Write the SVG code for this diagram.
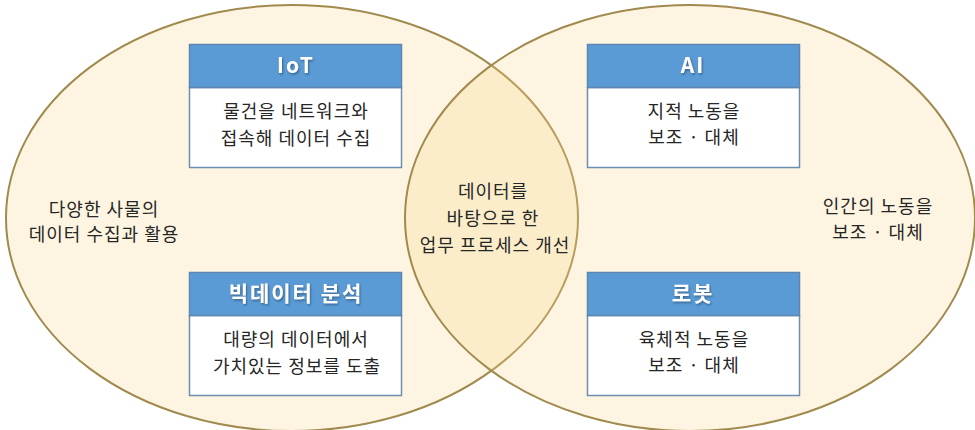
<svg xmlns="http://www.w3.org/2000/svg" width="975" height="430" viewBox="0 0 975 430">
<style>
.circle{fill:#F9D98C;fill-opacity:0.26;stroke:#A18A4E;stroke-width:2}
.hdr{fill:#5B9BD5;stroke:#5E86B2;stroke-width:1.5}
.body{fill:#FFFFFF;stroke:#6E8DB0;stroke-width:1.5}
.ht{font-family:"Noto Sans CJK KR","Noto Sans",sans-serif;font-size:21px;font-weight:bold;fill:#FFFFFF;text-anchor:middle;letter-spacing:2px;filter:url(#sh)}
.t{font-family:"Noto Sans CJK KR","Noto Sans",sans-serif;font-size:18px;fill:#262626;text-anchor:middle;letter-spacing:1px}
</style>
<defs>
<filter id="sh" x="-20%" y="-30%" width="140%" height="160%">
<feDropShadow dx="1" dy="1.5" stdDeviation="0.8" flood-color="#1F3A5A" flood-opacity="0.6"/>
</filter>
</defs>
<rect width="975" height="430" fill="#FFFFFF"/>
<g id="left-circle">
<ellipse class="circle" cx="292" cy="218" rx="286" ry="213"/>
<text class="t" x="104" y="216">다양한 사물의</text>
<text class="t" x="104" y="241">데이터 수집과 활용</text>
</g>
<g id="right-circle">
<ellipse class="circle" cx="690" cy="218" rx="285" ry="213"/>
<text class="t" x="878" y="213">인간의 노동을</text>
<text class="t" x="878" y="239">보조 · 대체</text>
</g>
<g id="center">
<text class="t" x="493" y="198">데이터를</text>
<text class="t" x="493" y="225">바탕으로 한</text>
<text class="t" x="495" y="252">업무 프로세스 개선</text>
</g>
<g id="iot">
<rect class="body" x="189.5" y="87.5" width="212" height="80"/>
<rect class="hdr" x="189.5" y="44.5" width="212" height="43"/>
<text class="ht" x="296" y="73">IoT</text>
<text class="t" x="296" y="118">물건을 네트워크와</text>
<text class="t" x="296" y="145">접속해 데이터 수집</text>
</g>
<g id="bigdata">
<rect class="body" x="189.5" y="315.5" width="212" height="80"/>
<rect class="hdr" x="189.5" y="272.5" width="212" height="43"/>
<text class="ht" x="296" y="301">빅데이터 분석</text>
<text class="t" x="296" y="346">대량의 데이터에서</text>
<text class="t" x="297" y="373">가치있는 정보를 도출</text>
</g>
<g id="ai">
<rect class="body" x="587.5" y="87.5" width="212" height="80"/>
<rect class="hdr" x="587.5" y="44.5" width="212" height="43"/>
<text class="ht" x="693" y="73">AI</text>
<text class="t" x="694" y="118">지적 노동을</text>
<text class="t" x="694" y="144">보조 · 대체</text>
</g>
<g id="robot">
<rect class="body" x="587.5" y="315.5" width="212" height="80"/>
<rect class="hdr" x="587.5" y="272.5" width="212" height="43"/>
<text class="ht" x="693" y="301">로봇</text>
<text class="t" x="694" y="346">육체적 노동을</text>
<text class="t" x="694" y="372">보조 · 대체</text>
</g>
<g id="connectors"></g>
</svg>
